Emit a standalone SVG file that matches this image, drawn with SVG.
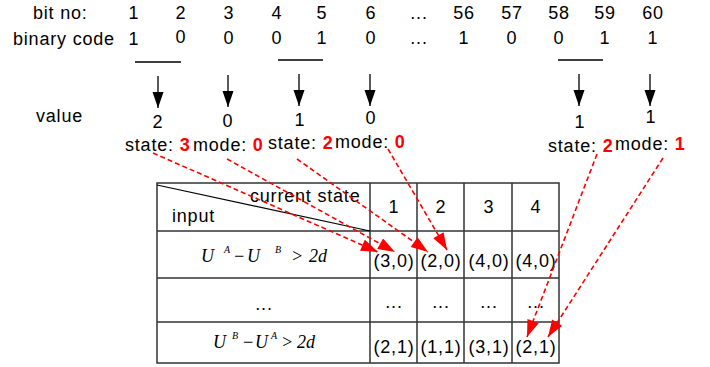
<svg xmlns="http://www.w3.org/2000/svg" width="710" height="367" viewBox="0 0 710 367">
<defs>
<style>
text{font-family:"Liberation Sans",Arial,sans-serif;font-size:18px;letter-spacing:0.8px;fill:#000}
.c{text-anchor:middle}
.r{fill:#ff0000;font-weight:bold;letter-spacing:0}
.m{font-family:"Liberation Serif","Times New Roman",serif;font-style:italic;font-size:18px;letter-spacing:0}
.s{font-family:"Liberation Serif","Times New Roman",serif;font-style:italic;font-size:10px;letter-spacing:0}
.g{stroke:#333;stroke-width:1.5;fill:none}
.bl{stroke:#000;stroke-width:1.3}
.red{stroke:#ff0000;stroke-width:1.6;stroke-dasharray:5 3;fill:none}
</style>
<marker id="ab" markerUnits="userSpaceOnUse" markerWidth="16" markerHeight="12" refX="16" refY="5.5" orient="auto" viewBox="0 0 16 11"><path d="M0,0 L16,5.5 L0,11 Z" fill="#000"/></marker>
<marker id="ar" markerUnits="userSpaceOnUse" markerWidth="18" markerHeight="12" refX="17" refY="6" orient="auto" viewBox="0 0 17 12"><path d="M0,0 L17,6 L0,12 Z" fill="#ff0000"/></marker>
</defs>
<g id="header">
<text x="33" y="19">bit no:</text>
<text x="13" y="45">binary code</text>
<text x="36" y="122">value</text>
</g>
<g id="bits">
<text class="c" x="134" y="19">1</text><text class="c" x="181" y="19">2</text><text class="c" x="229" y="19">3</text><text class="c" x="277" y="19">4</text><text class="c" x="322" y="19">5</text><text class="c" x="371" y="19">6</text><text class="c" x="419" y="19">...</text><text class="c" x="464" y="19">56</text><text class="c" x="512" y="19">57</text><text class="c" x="559" y="19">58</text><text class="c" x="605" y="19">59</text><text class="c" x="653" y="19">60</text>
<text class="c" x="134" y="45">1</text><text class="c" x="181" y="43">0</text><text class="c" x="229" y="44">0</text><text class="c" x="277" y="44">0</text><text class="c" x="322" y="44">1</text><text class="c" x="371" y="44">0</text><text class="c" x="419" y="44">...</text><text class="c" x="464" y="44">1</text><text class="c" x="512" y="44">0</text><text class="c" x="559" y="44">0</text><text class="c" x="605" y="44">1</text><text class="c" x="653" y="44">1</text>
</g>
<g id="groups">
<line class="bl" x1="135" y1="62" x2="181" y2="62"/>
<line class="bl" x1="278" y1="60" x2="323" y2="60"/>
<line class="bl" x1="558" y1="60" x2="603" y2="60"/>
</g>
<g id="values">
<text class="c" x="158" y="128">2</text>
<text class="c" x="228" y="127">0</text>
<text class="c" x="300" y="126">1</text>
<text class="c" x="371" y="124">0</text>
<text class="c" x="580" y="128">1</text>
<text class="c" x="651" y="123">1</text>
</g>
<g id="labels">
<text x="125" y="151">state: <tspan class="r">3</tspan></text>
<text x="193" y="151">mode: <tspan class="r">0</tspan></text>
<text x="268" y="149">state: <tspan class="r">2</tspan></text>
<text x="335" y="148">mode: <tspan class="r">0</tspan></text>
<text x="548" y="152">state: <tspan class="r">2</tspan></text>
<text x="615" y="150">mode: <tspan class="r">1</tspan></text>
</g>
<g id="table">
<rect class="g" x="157" y="183" width="402" height="180"/>
<line class="g" x1="370" y1="183" x2="370" y2="363"/>
<line class="g" x1="417" y1="183" x2="417" y2="363"/>
<line class="g" x1="464" y1="183" x2="464" y2="363"/>
<line class="g" x1="512" y1="183" x2="512" y2="363"/>
<line class="g" x1="157" y1="231" x2="559" y2="231"/>
<line class="g" x1="157" y1="278" x2="559" y2="278"/>
<line class="g" x1="157" y1="322" x2="559" y2="322"/>
<line stroke="#000" stroke-width="1.2" x1="157" y1="185" x2="370" y2="231"/>
<text x="250" y="202">current state</text>
<text x="172" y="222">input</text>
<text class="c" x="394" y="213">1</text><text class="c" x="441" y="213">2</text><text class="c" x="489" y="213">3</text><text class="c" x="536" y="213">4</text>
<text class="m" x="201" y="262">U</text><text class="s" x="224" y="253">A</text><text class="m" x="233" y="262">−</text><text class="m" x="247" y="262">U</text><text class="s" x="275" y="253">B</text><text class="m" x="291" y="262">&gt;</text><text class="m" x="309" y="262">2</text><text class="m" x="318" y="262">d</text>
<text class="c" x="394" y="267">(3,0)</text><text class="c" x="441" y="267">(2,0)</text><text class="c" x="489" y="267">(4,0)</text><text class="c" x="536" y="267">(4,0)</text>
<text class="c" x="264" y="310">...</text>
<text class="c" x="394" y="308">...</text><text class="c" x="441" y="308">...</text><text class="c" x="489" y="308">...</text><text class="c" x="536" y="308">...</text>
<text class="m" x="213" y="348">U</text><text class="s" x="232" y="339">B</text><text class="m" x="242" y="348">−</text><text class="m" x="255" y="348">U</text><text class="s" x="271" y="339">A</text><text class="m" x="281" y="348">&gt;</text><text class="m" x="297" y="348">2</text><text class="m" x="306" y="348">d</text>
<text class="c" x="394" y="353">(2,1)</text><text class="c" x="441" y="353">(1,1)</text><text class="c" x="489" y="353">(3,1)</text><text class="c" x="536" y="353">(2,1)</text>
</g>
<g id="connectors">
<line class="bl" x1="158" y1="76" x2="158" y2="108" marker-end="url(#ab)"/>
<line class="bl" x1="228" y1="75" x2="228" y2="107" marker-end="url(#ab)"/>
<line class="bl" x1="299" y1="74" x2="299" y2="106" marker-end="url(#ab)"/>
<line class="bl" x1="370" y1="74" x2="370" y2="106" marker-end="url(#ab)"/>
<line class="bl" x1="579" y1="74" x2="579" y2="106" marker-end="url(#ab)"/>
<line class="bl" x1="650" y1="74" x2="650" y2="106" marker-end="url(#ab)"/>
<line class="red" x1="153" y1="153" x2="378" y2="252" marker-end="url(#ar)"/>
<line class="red" x1="227" y1="159" x2="395" y2="252" marker-end="url(#ar)"/>
<line class="red" x1="297" y1="159" x2="428" y2="252" marker-end="url(#ar)"/>
<line class="red" x1="388" y1="149" x2="447" y2="250" marker-end="url(#ar)"/>
<line class="red" x1="597" y1="154" x2="527" y2="337" marker-end="url(#ar)"/>
<line class="red" x1="663" y1="158" x2="548" y2="337" marker-end="url(#ar)"/>
</g>
</svg>
